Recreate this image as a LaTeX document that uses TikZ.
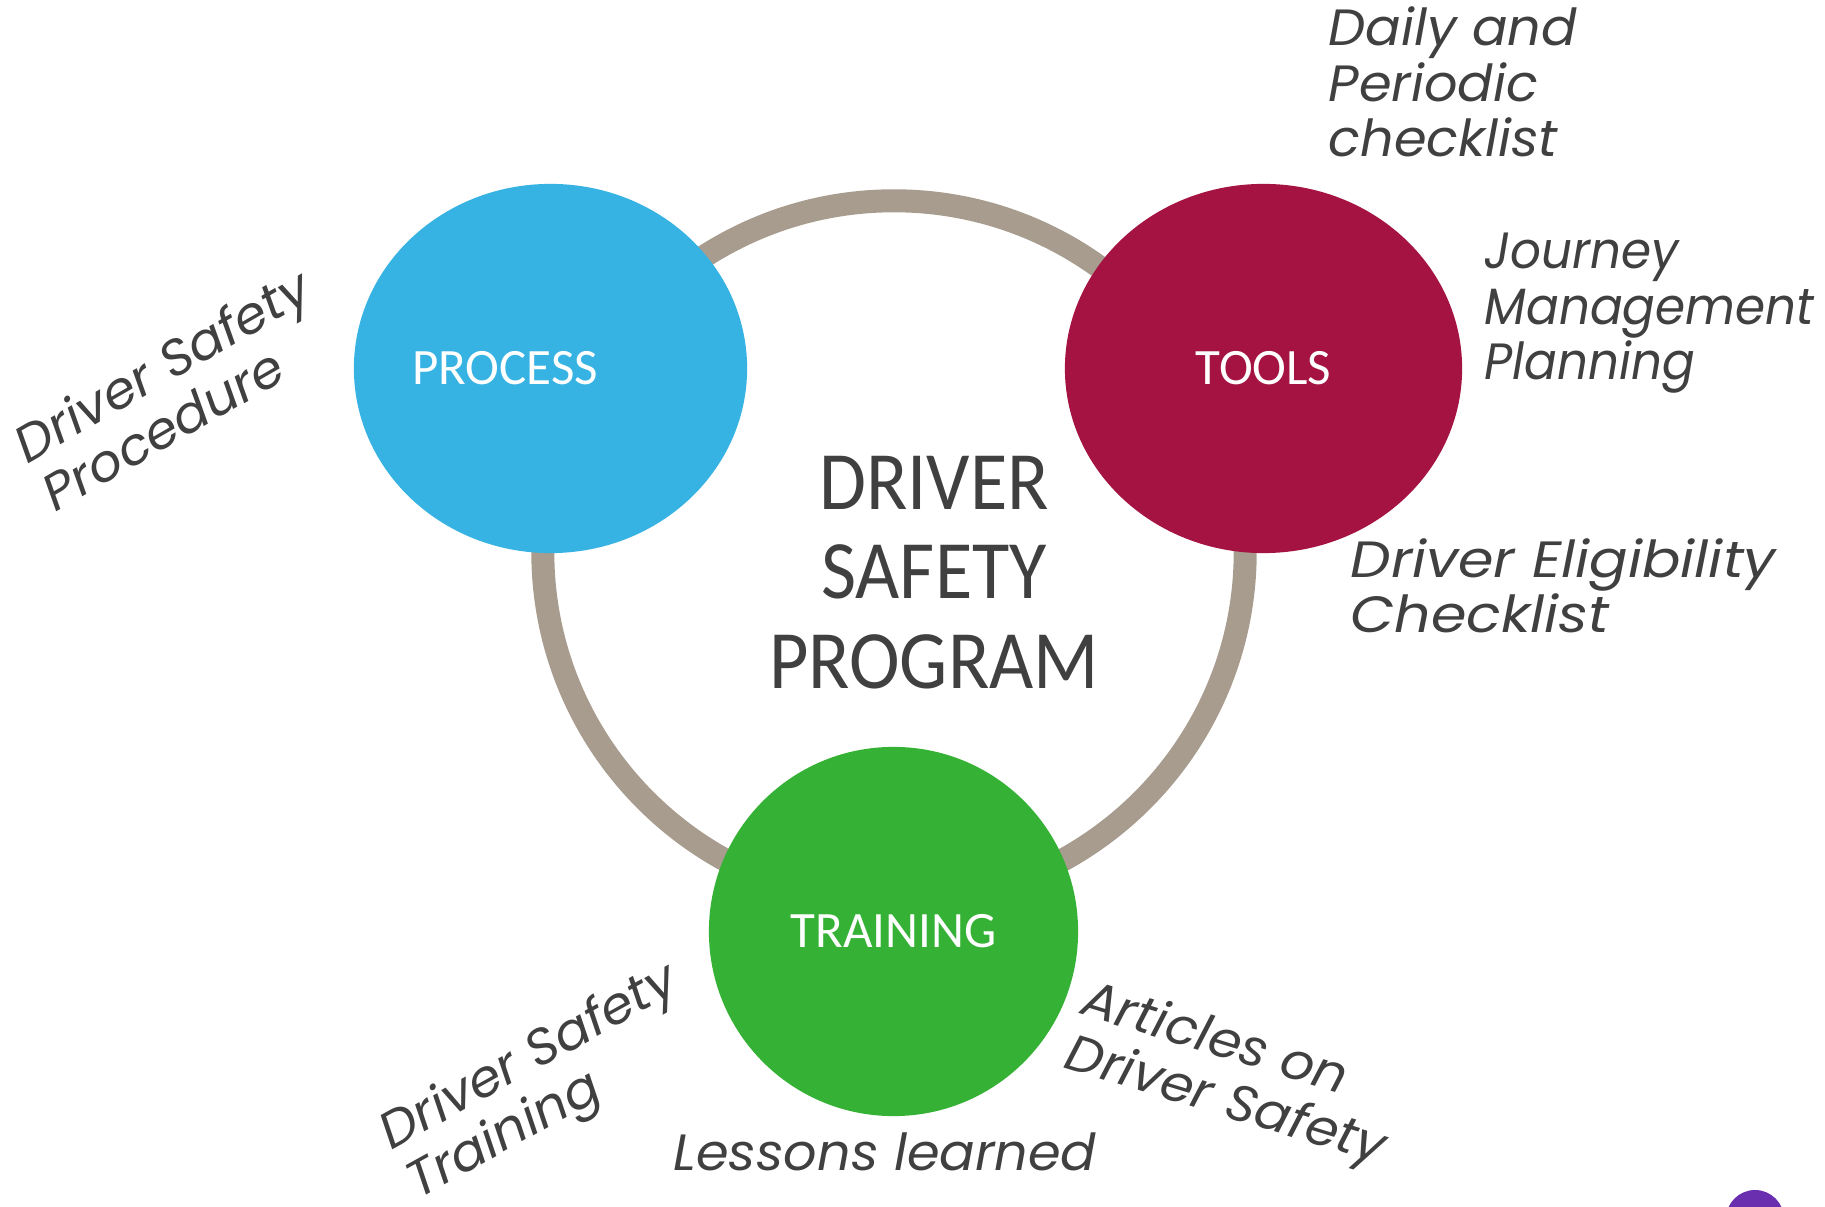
\documentclass[tikz,border=0pt]{standalone}
\usepackage{fontspec}
\setmainfont{Carlito}
\newfontfamily\titlefont[FakeStretch=0.92]{Carlito}
\newfontfamily\handfont[FakeStretch=1.03]{Poppins}
\newfontfamily\handfontwide[FakeStretch=1.12]{Poppins}
\newfontfamily\handfontnarrow[FakeStretch=0.95]{Poppins}
\usetikzlibrary{shapes.geometric}
\definecolor{processblue}{HTML}{36B3E3}
\definecolor{toolsred}{HTML}{A51342}
\definecolor{traininggreen}{HTML}{35B235}
\definecolor{ringgray}{HTML}{A89C8F}
\definecolor{inkgray}{HTML}{404040}
\definecolor{logopurple}{HTML}{6A2FAE}
\begin{document}
\begin{tikzpicture}
[x=0.01cm, y=-0.01cm,
  ringdecorate/.style={shape=circle,draw=ringgray,line width=0.23cm,minimum size=7.02cm,inner sep=0pt},%
  bubbledecorate/.style={shape=ellipse,inner sep=0pt},%
  bubbletext/.style={inner sep=0pt,text=white,font=\fontsize{14.5}{17}\selectfont},%
  notedecorate/.style={align=left,inner sep=0pt,anchor=base west,text=inkgray,
    font=#1\itshape\fontsize{14.5}{15.9}\selectfont}]
\useasboundingbox (0,0) rectangle (1825,1207);
%% ring behind the bubbles
\node (ring) at (894,552) [ringdecorate] {};
%% bubbles and their captions
\foreach \nodename/\x/\y/\sizex/\sizey/\shade/\shift/\caption in {
  process/550.5/368.5/3.93/3.69/processblue/-0.455/PROCESS,
  tools/1263.5/368.5/3.97/3.69/toolsred/0/TOOLS,
  training/893.5/931.5/3.69/3.69/traininggreen/0/TRAINING} {
  \node (\nodename) at (\x,\y) [bubbledecorate,fill=\shade,
    minimum width=\sizex cm,minimum height=\sizey cm] {};
  \node (\nodename label) at ([xshift=\shift cm]\nodename.center) [bubbletext] {\caption};
}
%% title in the middle
\node (title) at (934,572.5) [align=center,inner sep=0pt,text=inkgray,
  font=\titlefont\fontsize{23.6}{25.5}\selectfont] {DRIVER\\SAFETY\\PROGRAM};
%% handwritten notes (anchored at the last line)
\foreach \notename/\x/\y/\angle/\inkfont/\notetext in {
  daily/1328/157/0/\handfont/{Daily and\\Periodic\\checklist},
  journey/1484/380/0/\handfontnarrow/{Journey\\Management\\Planning},
  eligibility/1350/633/0/\handfontwide/{Driver Eligibility\\Checklist},
  lessons/673/1170/0/\handfont/{Lessons learned},
  procedure/55/513/30/\handfont/{Driver Safety\\Procedure},
  safetytraining/418/1200/29/\handfont/{Driver Safety\\Training},
  articles/1062/1067/-17/\handfont/{Articles on\\Driver Safety}} {
  \node (\notename) at (\x,\y) [notedecorate=\inkfont,rotate=\angle] {\notetext};
}
%% logo corner
\node (logo) at (1755,1219) [circle,fill=logopurple,minimum size=0.58cm,inner sep=0pt] {};
\end{tikzpicture}
\end{document}
